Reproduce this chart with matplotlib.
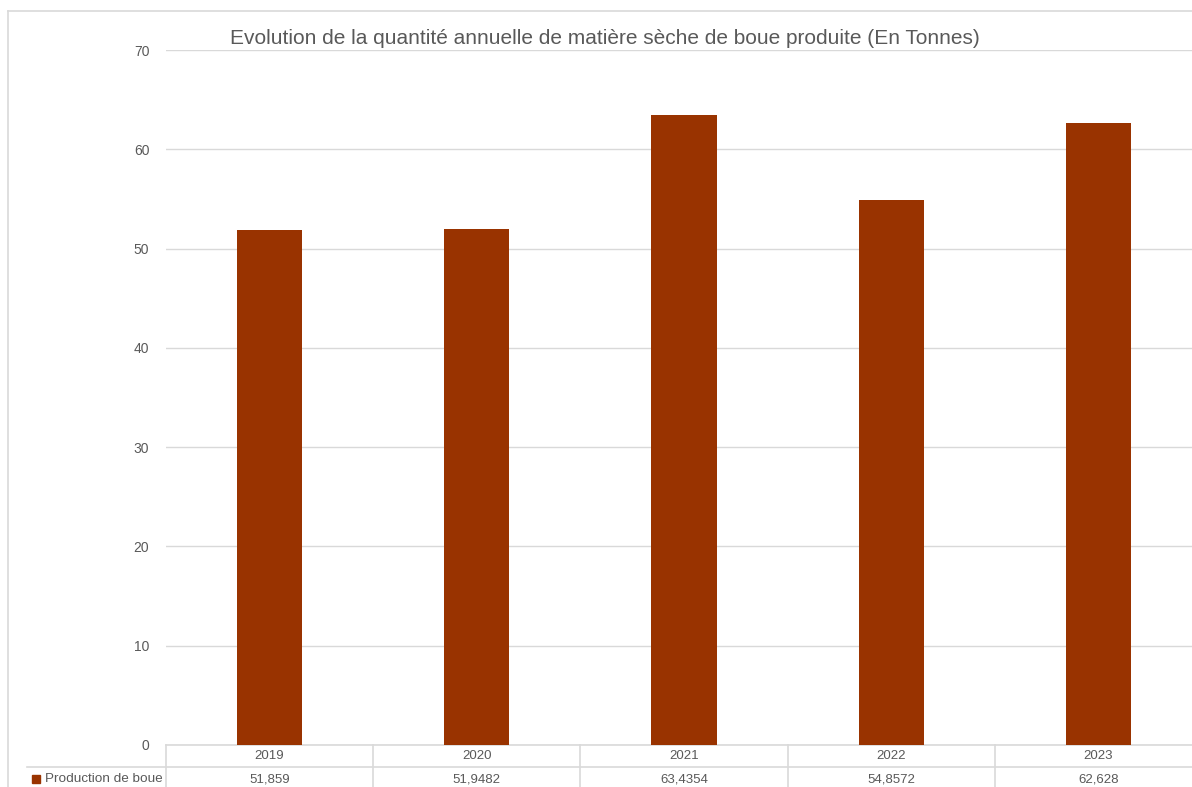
import matplotlib.pyplot as plt
from matplotlib.patches import Rectangle
from matplotlib.lines import Line2D

YEARS = ["2019", "2020", "2021", "2022", "2023"]
PRODUCTION = [51.859, 51.9482, 63.4354, 54.8572, 62.628]
SERIES_NAME = "Production de boue"
TITLE = "Evolution de la quantité annuelle de matière sèche de boue produite (En Tonnes)"

BAR_COLOR = "#993300"
TEXT_COLOR = "#595959"
GRID_COLOR = "#D9D9D9"

W, H = 1192, 787
plt.rcParams["font.family"] = ["Liberation Sans", "DejaVu Sans"]

fig = plt.figure(figsize=(W / 100, H / 100), dpi=100)


def fx(px):
    return px / W


def fy(py):
    return 1 - py / H


# chart frame (cropped on the right and bottom)
fig.add_artist(Line2D([fx(8), fx(8)], [fy(11), 0], color=GRID_COLOR, lw=1.2))
fig.add_artist(Line2D([fx(8), 1.0], [fy(11), fy(11)], color=GRID_COLOR, lw=1.2))

left, right, top, bottom = 166, 1202, 50, 745
ax = fig.add_axes([fx(left), fy(bottom), (right - left) / W, (bottom - top) / H])

x = list(range(len(YEARS)))
ax.bar(x, PRODUCTION, width=0.315, color=BAR_COLOR, zorder=3)
ax.set_xlim(-0.5, len(YEARS) - 0.5)
ax.set_ylim(0, 70)
ax.set_yticks(range(0, 71, 10))
ax.yaxis.grid(True, color=GRID_COLOR, lw=1.0, zorder=0)
ax.tick_params(axis="y", length=0, pad=12, labelsize=10, labelcolor=TEXT_COLOR)
ax.set_xticks([])
for side in ["left", "right", "top"]:
    ax.spines[side].set_visible(False)
ax.spines["bottom"].set_color(GRID_COLOR)
ax.spines["bottom"].set_linewidth(1.2)

# data table below the axis
ph = bottom - top
y_row1 = -(756 - bottom) / ph
y_row2 = -(779 - bottom) / ph
y_end = -(H + 5 - bottom) / ph
trans = ax.get_xaxis_transform()
for b in [i - 0.5 for i in range(len(YEARS) + 1)]:
    ax.add_line(Line2D([b, b], [0, y_end], transform=trans, color=GRID_COLOR, lw=1.2, clip_on=False))
fig.add_artist(Line2D([fx(27), 1.0], [fy(767), fy(767)], color=GRID_COLOR, lw=1.2))
for i, (yr, v) in enumerate(zip(YEARS, PRODUCTION)):
    ax.text(i, y_row1, yr, transform=trans, ha="center", va="center", fontsize=9.5, color=TEXT_COLOR)
    ax.text(i, y_row2, str(v).replace(".", ","), transform=trans, ha="center", va="center",
            fontsize=9.5, color=TEXT_COLOR)

fig.add_artist(Rectangle((fx(32), fy(783)), fx(8), 8 / H, color=BAR_COLOR))
fig.text(fx(45), fy(779), SERIES_NAME, ha="left", va="center", fontsize=9.7, color=TEXT_COLOR)

fig.text(fx(605), fy(39), TITLE, ha="center", va="center", fontsize=15, color=TEXT_COLOR)

fig.savefig("out.png", dpi=100)
